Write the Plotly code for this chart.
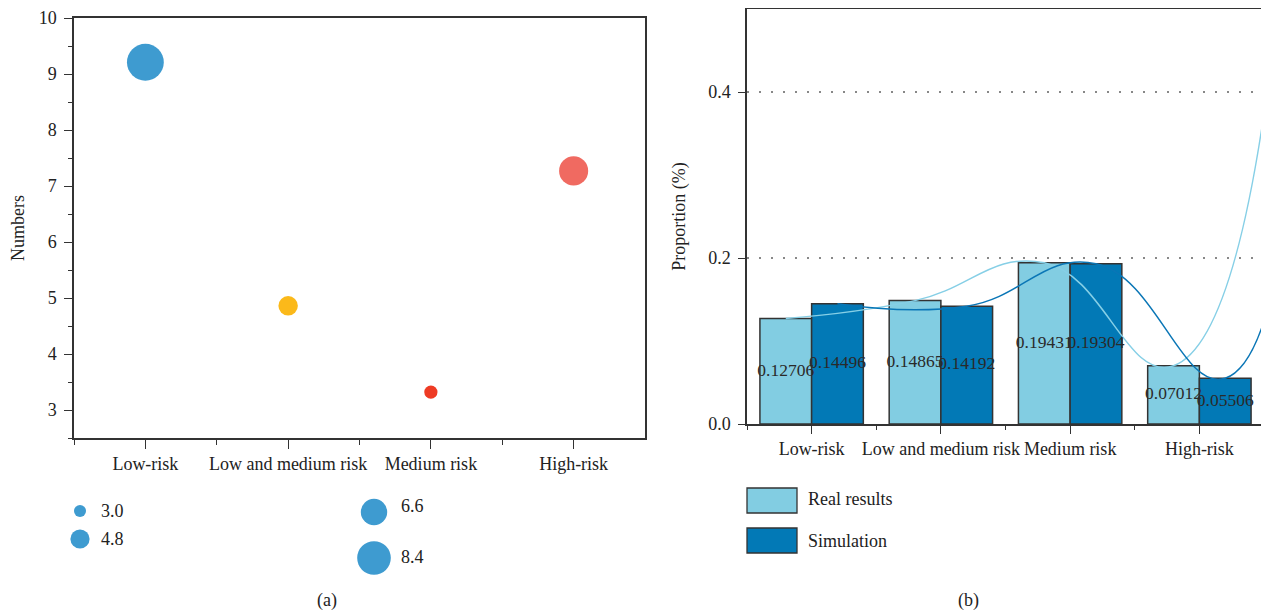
import plotly.graph_objects as go

# ---------------- data ----------------
categories = ["Low-risk", "Low and medium risk", "Medium risk", "High-risk"]
bubble_numbers = [9.21, 4.86, 3.32, 7.27]
bubble_colors = ["#3E9BD0", "#FBB91A", "#EE3B24", "#F06A61"]
size_legend_values = [3.0, 4.8, 6.6, 8.4]
size_legend_labels = ["3.0", "4.8", "6.6", "8.4"]

real_results = [0.12706, 0.14865, 0.19431, 0.07012]
simulation = [0.14496, 0.14192, 0.19304, 0.05506]
# smoothed curves continue beyond the visible range (value past the last category)
real_curve_tail = 0.78
sim_curve_tail = 0.52

y_ticks_left = [3, 4, 5, 6, 7, 8, 9, 10]
y_ticks_right = [0.0, 0.2, 0.4]

# ---------------- styling ----------------
OFF = 8                      # page body margin
W, H = 1269 - OFF, 614 - OFF
FONT = "Liberation Serif"
FS = 18
AXC = "#333333"
LIGHT = "#82CDE2"
DARK = "#0279B6"
LIGHT_LINE = "#86CFE6"
DARK_LINE = "#0A76B6"
PX_PER_UNIT = 4.0  # bubble diameter per unit of "Numbers"
BAR_W = 0.4

def px_x(p):
    return (p - OFF) / W

def px_y(p):
    return 1 - (p - OFF) / H

xs = list(range(len(categories)))

fig = go.Figure()

# ---- (a) bubble chart ----
fig.add_trace(go.Scatter(
    x=xs, y=bubble_numbers, mode="markers",
    marker=dict(size=[v * PX_PER_UNIT for v in bubble_numbers], sizemode="diameter",
                color=bubble_colors, opacity=1, line=dict(width=0)),
    xaxis="x", yaxis="y", showlegend=False, cliponaxis=False, hoverinfo="skip"))

# ---- (b) bars ----
for vals, name, col, grp in [(real_results, "Real results", LIGHT, "r"),
                             (simulation, "Simulation", DARK, "s")]:
    fig.add_trace(go.Bar(
        x=xs, y=vals, name=name, offsetgroup=grp,
        marker=dict(color=col, line=dict(color=AXC, width=1.5)),
        xaxis="x2", yaxis="y2", showlegend=False, hoverinfo="skip"))

# ---- (b) smoothed curves through bar tops ----
real_x = [i - BAR_W / 2 for i in xs] + [xs[-1] + 0.75]
sim_x = [i + BAR_W / 2 for i in xs] + [xs[-1] + 0.8]
fig.add_trace(go.Scatter(
    x=real_x, y=real_results + [real_curve_tail], mode="lines",
    line=dict(color=LIGHT_LINE, width=1.5, shape="spline", smoothing=1.3),
    xaxis="x2", yaxis="y2", showlegend=False, hoverinfo="skip"))
fig.add_trace(go.Scatter(
    x=sim_x, y=simulation + [sim_curve_tail], mode="lines",
    line=dict(color=DARK_LINE, width=1.5, shape="spline", smoothing=1.3),
    xaxis="x2", yaxis="y2", showlegend=False, hoverinfo="skip"))

# ---- (b) value labels on top of everything, centred in each bar ----
for vals, dx in [(real_results, -BAR_W / 2), (simulation, BAR_W / 2)]:
    fig.add_trace(go.Scatter(
        x=[i + dx for i in xs], y=[v / 2 for v in vals], mode="text",
        text=[f"{v:.5f}" for v in vals], textposition="middle center",
        textfont=dict(family=FONT, size=17.5, color="#2a2a2a"),
        xaxis="x2", yaxis="y2", showlegend=False, cliponaxis=False, hoverinfo="skip"))

# ---- size legend for (a) on a pixel overlay ----
leg_pos_x = [80, 80, 374, 374]
leg_pos_y = [511, 539, 512, 558]
fig.add_trace(go.Scatter(
    x=[px_x(p) for p in leg_pos_x], y=[px_y(p) for p in leg_pos_y], mode="markers",
    marker=dict(size=[v * PX_PER_UNIT for v in size_legend_values], sizemode="diameter",
                color="#3E9BD0", opacity=1, line=dict(width=0)),
    xaxis="x3", yaxis="y3", showlegend=False, cliponaxis=False, hoverinfo="skip"))

annotations = []
label_pos = [(99, 511), (99, 539), (399, 506), (399, 557)]
for lab, (lx, ly) in zip(size_legend_labels, label_pos):
    annotations.append(dict(x=px_x(lx), y=px_y(ly), xref="paper", yref="paper",
                            text=lab, showarrow=False, xanchor="left", yanchor="middle",
                            font=dict(family=FONT, size=FS, color="#222")))

# legend for (b)
shapes = []
for (y0, y1, col) in [(488, 513, LIGHT), (528, 553, DARK)]:
    shapes.append(dict(type="rect", xref="paper", yref="paper",
                       x0=px_x(747), x1=px_x(797), y0=px_y(y1), y1=px_y(y0),
                       fillcolor=col, line=dict(color=AXC, width=1.3)))
for txt, ty in [("Real results", 499), ("Simulation", 541)]:
    annotations.append(dict(x=px_x(806), y=px_y(ty), xref="paper", yref="paper",
                            text=txt, showarrow=False, xanchor="left", yanchor="middle",
                            font=dict(family=FONT, size=FS, color="#222")))
for txt, tx in [("(a)", 327), ("(b)", 968)]:
    annotations.append(dict(x=px_x(tx), y=px_y(600), xref="paper", yref="paper",
                            text=txt, showarrow=False, xanchor="center", yanchor="middle",
                            font=dict(family=FONT, size=FS, color="#222")))

axis_common = dict(showline=True, linecolor=AXC, linewidth=1.5, mirror=True,
                   ticks="outside", tickcolor=AXC, tickwidth=1.3,
                   zeroline=False, automargin=False,
                   tickfont=dict(family=FONT, size=FS, color="#222"))

fig.update_layout(
    width=W, height=H,
    margin=dict(l=0, r=0, t=0, b=0, autoexpand=False),
    paper_bgcolor="white", plot_bgcolor="rgba(0,0,0,0)",
    barmode="group", bargap=0.2, bargroupgap=0,
    font=dict(family=FONT, size=FS, color="#222"),
    xaxis=dict(domain=[px_x(74), px_x(645)], range=[-0.5, 3.5],
               tickvals=xs, ticktext=categories, ticklen=9, showgrid=False,
               minor=dict(tickvals=[-0.5, 0.5, 1.5, 2.5], ticklen=5, tickcolor=AXC, tickwidth=1.3,
                          ticks="outside"),
               anchor="y", **axis_common),
    yaxis=dict(domain=[px_y(438), px_y(18)], range=[2.5, 10],
               tickvals=y_ticks_left, ticklen=8, showgrid=False, ticklabelstandoff=4,
               minor=dict(dtick=0.5, tick0=0, ticklen=4, tickcolor=AXC, tickwidth=1.3, ticks="outside"),
               title=dict(text="Numbers", font=dict(family=FONT, size=FS, color="#222"), standoff=9),
               anchor="x", **axis_common),
    xaxis2=dict(domain=[px_x(747), px_x(1264)], range=[-0.5, 3.5],
                tickvals=xs, ticktext=categories, ticklen=8, showgrid=False,
                minor=dict(tickvals=[-0.5, 0.5, 1.5, 2.5, 3.5], ticklen=4, tickcolor=AXC, tickwidth=1.3,
                           ticks="outside"),
                anchor="y2", **axis_common),
    yaxis2=dict(domain=[px_y(424), px_y(9)], range=[0, 0.5],
                tickvals=y_ticks_right, tickformat=".1f", ticklen=7, ticklabelstandoff=4,
                title=dict(text="Proportion (%)", font=dict(family=FONT, size=FS, color="#222"), standoff=18),
                anchor="x2",
                showgrid=True, gridcolor="#888888", gridwidth=1.6, griddash="2px,10px",
                **axis_common),
    xaxis3=dict(domain=[0, 1], range=[0, 1], visible=False, anchor="y3", fixedrange=True),
    yaxis3=dict(domain=[0, 1], range=[0, 1], visible=False, anchor="x3", fixedrange=True),
    shapes=shapes,
    annotations=annotations,
)

fig.write_html("out.html")
